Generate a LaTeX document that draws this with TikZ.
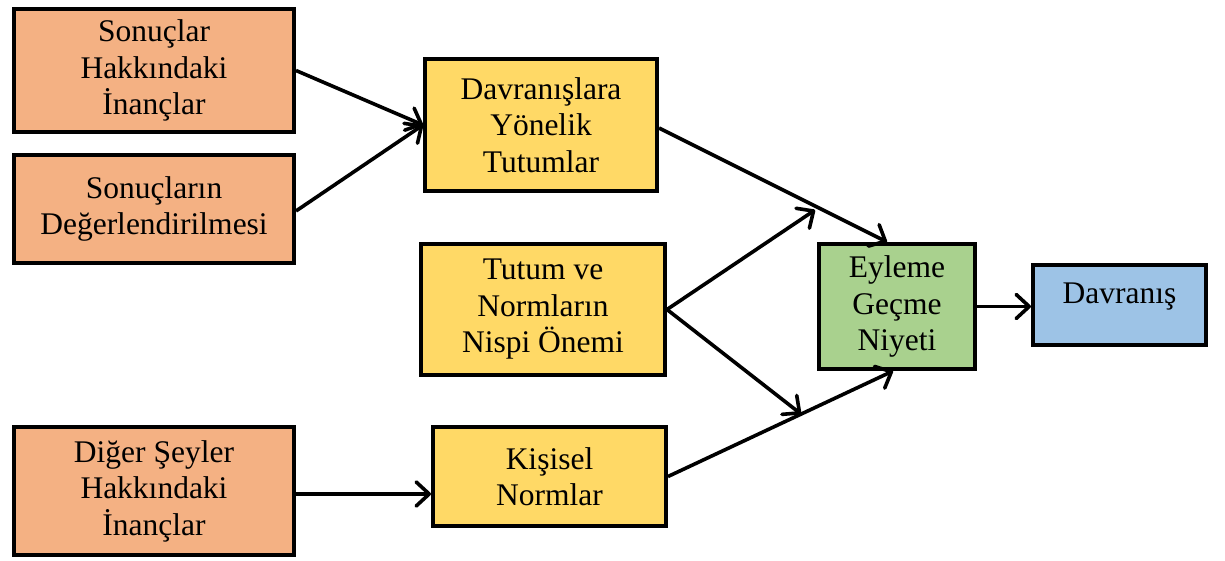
\documentclass[tikz,border=0pt]{standalone}
\usepackage{fontspec}
\setmainfont{Liberation Serif}
\usetikzlibrary{arrows.meta}

\definecolor{beliefcol}{HTML}{F4B183}
\definecolor{attcol}{HTML}{FFD966}
\definecolor{intentcol}{HTML}{A9D18E}
\definecolor{behcol}{HTML}{9DC3E6}

\tikzset{
  box/.style={draw=black, line width=4pt, rectangle, align=center,
    inner sep=0pt, font=\fontsize{31.5}{36.5}\selectfont},
  belief/.style={box, fill=beliefcol},
  attitude/.style={box, fill=attcol},
  intent/.style={box, fill=intentcol},
  behave/.style={box, fill=behcol},
  link/.style={line width=3.6pt, -{Straight Barb[length=13pt,width=24pt,round]}}
}

\begin{document}
\begin{tikzpicture}[x=1pt, y=-1pt]
\useasboundingbox (0,0) rectangle (1225,561);
\fill[white] (0,0) rectangle (1225,561);

% belief boxes (left column)
\node[belief, minimum width=280pt, minimum height=123pt] (bel1) at (154,70.5)
  {Sonuçlar\\Hakkındaki\\İnançlar};
\node[belief, minimum width=280pt, minimum height=108pt] (bel2) at (154,209)
  {Sonuçların\\Değerlendirilmesi};
\node[belief, minimum width=280pt, minimum height=128pt] (bel3) at (154,491)
  {Diğer Şeyler\\Hakkındaki\\İnançlar};

% middle column
\node[attitude, minimum width=232pt, minimum height=132pt] (att) at (541,125)
  {Davranışlara\\Yönelik\\Tutumlar};
\node[attitude, minimum width=244pt, minimum height=131pt] (wgt) at (543,309.5)
  {Tutum ve\\Normların\\Nispi Önemi};
\node[attitude, minimum width=233pt, minimum height=99pt] (norm) at (549.5,476.5)
  {Kişisel\\Normlar};

% intention and behaviour
\node[intent, minimum width=156pt, minimum height=125pt] (int) at (897,306.5)
  {Eyleme\\Geçme\\Niyeti};
\node[behave, minimum width=173pt, minimum height=80pt,
  text height=22pt, text depth=26pt] (beh) at (1119.5,305) {Davranış};

% free ends of the weighting arrows
\coordinate (wtop) at (815,210);
\coordinate (wbot) at (801,414);
% start of the personal-beliefs arrow
\coordinate (b3out) at ([yshift=-3pt]bel3.east);

% connectors
\draw[link] (bel1.east) -- (att.west);
\draw[link] ([yshift=-2pt]bel2.east) -- (att.west);
\draw[link] (b3out) -- (b3out -| norm.west);
\draw[link] ([yshift=-3pt]att.east) -- ([xshift=-10pt]int.north);
\draw[link] (wgt.east) -- (wtop);
\draw[link] (wgt.east) -- (wbot);
\draw[link] (norm.east) -- ([xshift=-4pt]int.south);
\draw[link] (int.east) -- (int.east -| beh.west);
\end{tikzpicture}
\end{document}
